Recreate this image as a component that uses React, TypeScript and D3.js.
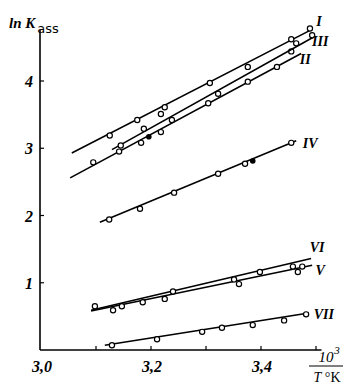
import React, { useRef, useEffect } from "react";
import * as d3 from "d3";

// 10^3/T (x) vs ln K_ass (y)
const pointsI: [number, number][] = [
  [3.125, 3.19], [3.175, 3.42], [3.225, 3.61], [3.307, 3.97], [3.376, 4.21], [3.455, 4.62], [3.489, 4.78],
];
const pointsII: [number, number][] = [
  [3.095, 2.79], [3.142, 2.95], [3.182, 3.08], [3.218, 3.24], [3.304, 3.67], [3.376, 3.99], [3.429, 4.21], [3.455, 4.44],
];
const pointsIII: [number, number][] = [
  [3.145, 3.04], [3.187, 3.29], [3.218, 3.51], [3.238, 3.42], [3.322, 3.81], [3.464, 4.56], [3.493, 4.68],
];
const pointsIV: [number, number][] = [
  [3.124, 1.94], [3.18, 2.1], [3.242, 2.34], [3.322, 2.62], [3.371, 2.77], [3.455, 3.08],
];
const pointsV: [number, number][] = [
  [3.131, 0.59], [3.225, 0.76], [3.36, 0.98], [3.467, 1.16],
];
const pointsVI: [number, number][] = [
  [3.098, 0.65], [3.147, 0.65], [3.185, 0.71], [3.24, 0.87], [3.351, 1.05], [3.398, 1.16], [3.458, 1.24], [3.475, 1.24],
];
const pointsVII: [number, number][] = [
  [3.129, 0.07], [3.211, 0.16], [3.293, 0.27], [3.329, 0.33], [3.385, 0.37], [3.442, 0.44], [3.482, 0.53],
];
// solid dots
const filledPoints: [number, number][] = [[3.196, 3.17], [3.385, 2.81]];

// fitted lines: [start, end]
const lineI: [number, number][] = [[3.056, 2.93], [3.491, 4.76]];
const lineII: [number, number][] = [[3.053, 2.56], [3.473, 4.41]];
const lineIII: [number, number][] = [[3.129, 2.98], [3.495, 4.65]];
const lineIV: [number, number][] = [[3.107, 1.9], [3.464, 3.11]];
const lineV: [number, number][] = [[3.091, 0.58], [3.493, 1.26]];
const lineVI: [number, number][] = [[3.091, 0.59], [3.491, 1.36]];
const lineVII: [number, number][] = [[3.116, 0.07], [3.487, 0.55]];

const seriesNames = ["I", "II", "III", "IV", "V", "VI", "VII"];
const seriesPoints = [pointsI, pointsII, pointsIII, pointsIV, pointsV, pointsVI, pointsVII];
const seriesLines = [lineI, lineII, lineIII, lineIV, lineV, lineVI, lineVII];

const yTicks = [1, 2, 3, 4];
const xTicks = [3.1, 3.2, 3.3, 3.4, 3.5];
const xTickLabels = [3.0, 3.2, 3.4];

// label offsets from the line end (px)
const labelOffset: Record<string, [number, number]> = {
  I: [8, -9], II: [4, 6], III: [7, 4], IV: [14, 2], V: [8, 5], VI: [6, -12], VII: [15, 1],
};

const App = () => {
  const ref = useRef<SVGSVGElement>(null);

  useEffect(() => {
    const svg = d3.select(ref.current);
    svg.selectAll("*").remove();

    const x = d3.scaleLinear().domain([3.0, 3.5]).range([41, 316]);
    const y = d3.scaleLinear().domain([0, 4]).range([350, 81]);
    const serif = "'Liberation Serif', 'DejaVu Serif', serif";

    // y axis
    svg.append("line")
      .attr("x1", x(3.0) - 1).attr("x2", x(3.0) - 1)
      .attr("y1", y(0)).attr("y2", y(4.76))
      .attr("stroke", "#000").attr("stroke-width", 1.6);
    svg.append("g").selectAll("line").data(yTicks).enter().append("line")
      .attr("x1", x(3.0) - 1).attr("x2", x(3.0) + 3)
      .attr("y1", (d) => y(d)).attr("y2", (d) => y(d))
      .attr("stroke", "#000").attr("stroke-width", 1.2);
    svg.append("g").selectAll("text").data(yTicks).enter().append("text")
      .attr("x", x(3.0) - 8).attr("y", (d) => y(d) + 6)
      .attr("text-anchor", "end")
      .attr("font-family", serif).attr("font-style", "italic").attr("font-weight", "bold")
      .attr("font-size", 16)
      .text((d) => d);

    // x axis
    svg.append("line")
      .attr("x1", x(3.0) - 1).attr("x2", x(3.51))
      .attr("y1", y(0)).attr("y2", y(0))
      .attr("stroke", "#000").attr("stroke-width", 1.6);
    svg.append("g").selectAll("line").data(xTicks).enter().append("line")
      .attr("x1", (d) => x(d)).attr("x2", (d) => x(d))
      .attr("y1", y(0)).attr("y2", y(0) - 4)
      .attr("stroke", "#000").attr("stroke-width", 1.2);
    svg.append("g").selectAll("text").data(xTickLabels).enter().append("text")
      .attr("x", (d) => x(d) + 1).attr("y", y(0) + 22)
      .attr("text-anchor", "middle")
      .attr("font-family", serif).attr("font-style", "italic").attr("font-weight", "bold")
      .attr("font-size", 16)
      .text((d) => d.toFixed(1).replace(".", ","));

    // axis titles
    const yl = svg.append("text").attr("x", 9).attr("y", 28)
      .attr("font-family", serif).attr("font-size", 15);
    yl.append("tspan").attr("font-weight", "bold").attr("font-style", "italic").text("ln K");
    yl.append("tspan").attr("font-family", "'DejaVu Sans', sans-serif").attr("font-size", 13)
      .attr("dx", 2).attr("dy", 5).text("ass");

    svg.append("text").attr("x", 326).attr("y", 362).attr("text-anchor", "middle")
      .attr("font-family", serif).attr("font-style", "italic").attr("font-size", 15)
      .text("10");
    svg.append("text").attr("x", 337).attr("y", 354).attr("text-anchor", "middle")
      .attr("font-family", serif).attr("font-style", "italic").attr("font-size", 11)
      .text("3");
    svg.append("line").attr("x1", 309).attr("x2", 343).attr("y1", 366).attr("y2", 366)
      .attr("stroke", "#000").attr("stroke-width", 1.2);
    const tk = svg.append("text").attr("x", 327).attr("y", 382).attr("text-anchor", "middle")
      .attr("font-family", serif).attr("font-size", 14);
    tk.append("tspan").attr("font-style", "italic").text("T");
    tk.append("tspan").text(" °K");

    // fitted lines, markers, labels
    seriesNames.forEach((name, i) => {
      const ln = seriesLines[i];
      svg.append("line")
        .attr("x1", x(ln[0][0])).attr("y1", y(ln[0][1]))
        .attr("x2", x(ln[1][0])).attr("y2", y(ln[1][1]))
        .attr("stroke", "#000").attr("stroke-width", 1.6);

      svg.append("g").selectAll("circle").data(seriesPoints[i]).enter().append("circle")
        .attr("cx", (d) => x(d[0])).attr("cy", (d) => y(d[1]))
        .attr("r", 2.6)
        .attr("fill", "#fff").attr("stroke", "#000").attr("stroke-width", 1.2);

      const off = labelOffset[name];
      svg.append("text")
        .attr("x", x(ln[1][0]) + off[0]).attr("y", y(ln[1][1]) + off[1] + 5)
        .attr("text-anchor", "middle")
        .attr("font-family", serif).attr("font-style", "italic").attr("font-weight", "bold")
        .attr("font-size", 14)
        .text(name);
    });

    svg.append("g").selectAll("circle").data(filledPoints).enter().append("circle")
      .attr("cx", (d) => x(d[0])).attr("cy", (d) => y(d[1]))
      .attr("r", 2.8).attr("fill", "#000");
  }, []);

  return (
    <div style={{ position: "absolute", left: 0, top: 0 }}>
      <svg ref={ref} width="344" height="384" style={{ display: "block", background: "#fff" }}></svg>
    </div>
  );
};

export default App;
